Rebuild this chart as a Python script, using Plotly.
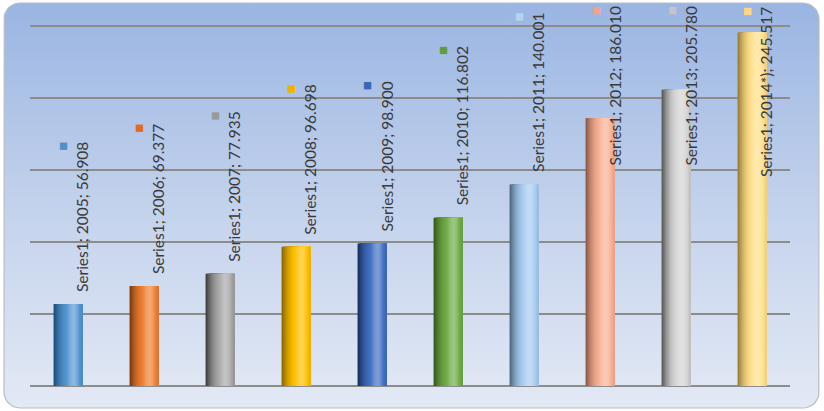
import numpy as np
from plotly import graph_objects as go

# data
series_name = "Series1"
years = ["2005", "2006", "2007", "2008", "2009", "2010", "2011", "2012", "2013", "2014*)"]
values = [56.908, 69.377, 77.935, 96.698, 98.900, 116.802, 140.001, 186.010, 205.780, 245.517]
value_labels = ["56.908", "69.377", "77.935", "96.698", "98.900", "116.802", "140.001", "186.010", "205.780", "245.517"]

# bar styling (base colour, shadow colour)
base_colors = ["#5597d2", "#ef8236", "#a8a8a8", "#ffc000", "#4472c4",
               "#70ad47", "#a8cdf2", "#f9b196", "#d4d4d4", "#ffe08c"]
dark_colors = ["#1f4e79", "#7f3a0c", "#404040", "#8c6900", "#1a2f5e",
               "#365a1f", "#4f6980", "#8c5a48", "#5a5a5a", "#9a7f3a"]
key_colors = ["#4f8fcb", "#e06c1c", "#9a9a9a", "#f0b400", "#3a66b8",
              "#5e9e3a", "#b4d4ee", "#f5a383", "#c4c4c4", "#ffd780"]

W, H = 824, 411
PLOT_L, PLOT_R, PLOT_T, PLOT_B = 30, 790, 26, 386
Y_MAX = 250
BAR_W = 0.38
profile_keys = [0.0, 0.3, 0.55, 0.75, 0.9, 1.0, 1.1, 1.18, 1.2, 1.12, 1.0, 0.85]


def hex_rgb(c):
    c = c.lstrip("#")
    return np.array([int(c[i:i + 2], 16) for i in (0, 2, 4)], dtype=float)


def shade(base, dark, p):
    b, d = hex_rgb(base), hex_rgb(dark)
    if p <= 1:
        c = d + (b - d) * p
    else:
        c = b + (255.0 - b) * (p - 1) * 1.6
    c = np.clip(c, 0, 255).astype(int)
    return f"rgb({c[0]},{c[1]},{c[2]})"


fig = go.Figure()

# background frame with vertical gradient (on a pixel-sized paper subplot)
r = 16
x0, x1, y0, y1 = 4, 819, 3, 408
px, py = [], []
for cx, cy, a0 in [(x1 - r, y0 + r, -90), (x1 - r, y1 - r, 0), (x0 + r, y1 - r, 90), (x0 + r, y0 + r, 180)]:
    for a in np.linspace(a0, a0 + 90, 10):
        px.append(cx + r * np.cos(np.radians(a)))
        py.append(cy + r * np.sin(np.radians(a)))
px.append(px[0])
py.append(py[0])
fig.add_trace(go.Scatter(
    x=px, y=py, mode="lines", fill="toself",
    line=dict(color="#b8bcc4", width=1.2),
    fillgradient=dict(type="vertical", start=y0, stop=y1,
                      colorscale=[[0, "#9ab5e2"], [0.5, "#c3d2ec"], [1, "#e3e9f5"]]),
    hoverinfo="skip", showlegend=False, xaxis="x", yaxis="y",
))

# cylinder-like bars: overlapping strips, each painted from its left edge to the bar's right edge
n = 26
profile = np.interp(np.linspace(0, 1, n), np.linspace(0, 1, len(profile_keys)), profile_keys)
idx = list(range(len(years)))
for k, p in enumerate(profile):
    fig.add_trace(go.Bar(
        x=idx, y=values,
        width=BAR_W - k * BAR_W / n,
        offset=-BAR_W / 2 + k * BAR_W / n,
        marker=dict(color=[shade(b, d, p) for b, d in zip(base_colors, dark_colors)], line_width=0),
        xaxis="x2", yaxis="y2", showlegend=False, hoverinfo="skip",
    ))

# rotated data labels with legend keys
font_size = 15.5
px_per_unit = (PLOT_B - PLOT_T) / Y_MAX
annotations = []
for i, (yr, v, lab, kc) in enumerate(zip(years, values, value_labels, key_colors)):
    text = f"{series_name}; {yr}; {lab}"
    full = f"<span style='color:{kc};font-size:15px'>■</span><br>{text}"
    top_px = PLOT_B - v * px_per_unit - 10 - len(text) * 7.3
    common = dict(x=i, xref="x2", text=full, textangle=-90, showarrow=False,
                  align="right", xanchor="center", xshift=4,
                  font=dict(family="Lato", size=font_size, color="#3a3a3a"))
    if top_px < 8:
        annotations.append(dict(y=1 - 5 / H, yref="paper", yanchor="top", **common))
    else:
        annotations.append(dict(y=v, yref="y2", yanchor="bottom", yshift=10, **common))

# pad the value range by one unit so the 0 and 250 gridlines are drawn
pad = 1
fig.update_layout(
    width=W, height=H,
    margin=dict(l=0, r=0, t=0, b=0),
    paper_bgcolor="white",
    plot_bgcolor="rgba(0,0,0,0)",
    barmode="overlay",
    xaxis=dict(domain=[0, 1], range=[0, W], visible=False, fixedrange=True),
    yaxis=dict(domain=[0, 1], range=[H, 0], visible=False, fixedrange=True),
    xaxis2=dict(domain=[PLOT_L / W, PLOT_R / W], anchor="y2", range=[-0.5, 9.5], type="linear",
                showticklabels=False, showgrid=False, zeroline=False, ticks=""),
    yaxis2=dict(domain=[(H - PLOT_B - pad * px_per_unit) / H, (H - PLOT_T + pad * px_per_unit) / H],
                anchor="x2", range=[-pad, Y_MAX + pad],
                dtick=50, showticklabels=False, showgrid=True, gridcolor="#8c8c8c",
                gridwidth=2, zeroline=False, ticks=""),
    annotations=annotations,
    showlegend=False,
)

fig.write_html("out.html", config={"displayModeBar": False},
               post_script="document.body.style.margin='0px';")
